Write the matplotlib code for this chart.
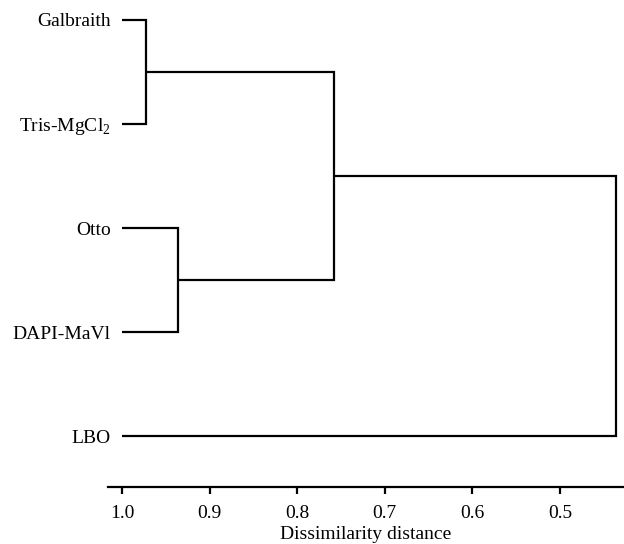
import matplotlib
matplotlib.use("Agg")
import matplotlib.pyplot as plt

plt.rcParams['font.family'] = ['Liberation Serif', 'DejaVu Serif']
plt.rcParams['mathtext.fontset'] = 'custom'
plt.rcParams['mathtext.rm'] = 'Liberation Serif'

# Leaves (top to bottom)
leaf_labels = ["Galbraith", r"Tris-MgCl$_\mathregular{2}$", "Otto", "DAPI-MaVl", "LBO"]
leaf_base = 1.0
# Merges: (cluster a, cluster b, distance); new clusters numbered from len(leaves)
merge_a = [0, 2, 5, 7]
merge_b = [1, 3, 6, 4]
merge_dist = [0.973, 0.936, 0.758, 0.436]
xticks = [1.0, 0.9, 0.8, 0.7, 0.6, 0.5]
xlabel = "Dissimilarity distance"

fig = plt.figure(figsize=(6.24, 5.44), dpi=100)
W, H = 624, 544
ax = fig.add_axes([108 / W, (H - 487) / H, (W - 108) / W, 487 / H])

pos = {i: (float(i), leaf_base) for i in range(len(leaf_labels))}
lw = 1.6
for k, (a, b, d) in enumerate(zip(merge_a, merge_b, merge_dist)):
    ya, xa = pos[a]
    yb, xb = pos[b]
    ax.plot([xa, d, d, xb], [ya, ya, yb, yb], color='black', lw=lw,
            solid_joinstyle='miter', solid_capstyle='butt')
    pos[len(leaf_labels) + k] = ((ya + yb) / 2, d)

fs = 14
ax.set_xlim(1.016, 0.427)
ax.set_ylim(4.49, -0.192)
ax.set_yticks(range(len(leaf_labels)))
ax.set_yticklabels(leaf_labels, fontsize=fs)
ax.tick_params(axis='y', length=0, pad=-2)
ax.set_xticks(xticks)
ax.set_xticklabels([f"{t:.1f}" for t in xticks], fontsize=fs)
ax.tick_params(axis='x', length=5, width=1.6, direction='out', pad=8)
ax.set_xlabel(xlabel, fontsize=fs, labelpad=3)
for s in ['top', 'right', 'left']:
    ax.spines[s].set_visible(False)
ax.spines['bottom'].set_linewidth(1.6)

fig.savefig("out.png", dpi=100)
